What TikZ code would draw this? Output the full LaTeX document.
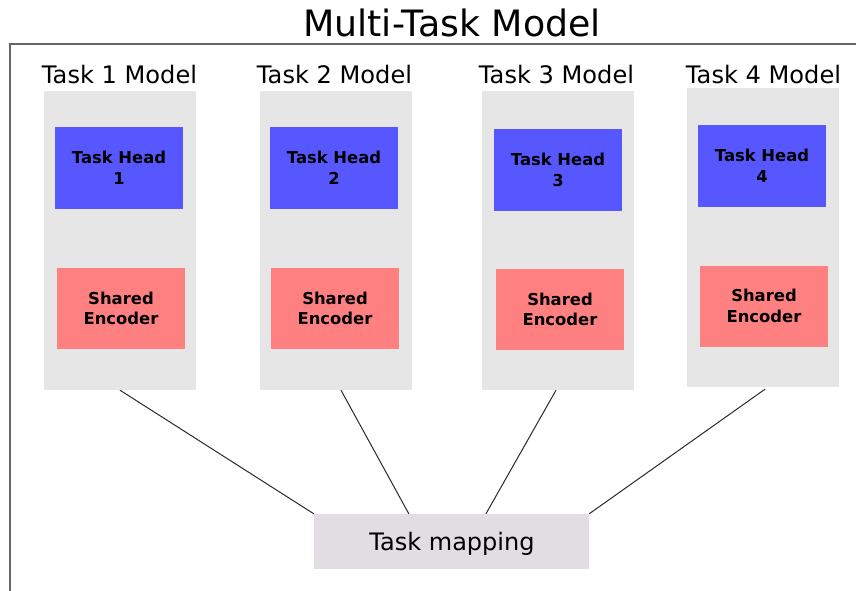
\documentclass[tikz,border=0pt]{standalone}
\usepackage{fontspec}
\setmainfont{DejaVu Sans}
\usetikzlibrary{calc}
\definecolor{boxgray}{HTML}{E6E6E6}
\definecolor{headblue}{HTML}{5757FF}
\definecolor{encred}{HTML}{FF8080}
\definecolor{mapgray}{HTML}{E2DCE3}
\definecolor{framec}{HTML}{666666}
\definecolor{linec}{HTML}{2A2A2A}
\begin{document}
\begin{tikzpicture}[x=1pt,y=-1pt,
  panel/.style={fill=boxgray, draw=none, minimum width=152pt, minimum height=299pt, inner sep=0pt},
  head/.style={fill=headblue, minimum width=128pt, minimum height=82pt, inner sep=0pt, align=center, font=\fontsize{16.4}{20.5}\selectfont\bfseries},
  enc/.style={fill=encred, minimum width=128pt, minimum height=81pt, inner sep=0pt, align=center, font=\fontsize{16.4}{20.5}\selectfont\bfseries},
  tlabel/.style={anchor=base, inner sep=0pt, font=\fontsize{24.1}{29}\selectfont},
  conn/.style={draw=linec, line width=1pt},
]
\useasboundingbox (0,0) rectangle (856,591);
% frame
\draw[framec, line width=1.6pt] (10,592) -- (10,44) -- (857,44);
% title
\node[anchor=base, inner sep=0pt, font=\fontsize{36.3}{44}\selectfont] (title) at (452,37) {Multi-Task Model};
% panels
\node[panel] (p1) at (120,240.5) {};
\node[panel] (p2) at (336,240.5) {};
\node[panel] (p3) at (558,240.5) {};
\node[panel] (p4) at (763,237.5) {};
% labels
\node[tlabel] (l1) at (119.5,84) {Task 1 Model};
\node[tlabel] (l2) at (334.5,84) {Task 2 Model};
\node[tlabel] (l3) at (556.5,84) {Task 3 Model};
\node[tlabel] (l4) at (763.5,84) {Task 4 Model};
% heads
\node[head] (h1) at (119,168) {Task Head\\1};
\node[head] (h2) at (334,168) {Task Head\\2};
\node[head] (h3) at (558,170) {Task Head\\3};
\node[head] (h4) at (762,166) {Task Head\\4};
% encoders
\node[enc] (e1) at (121,308.5) {Shared\\Encoder};
\node[enc] (e2) at (335,308.5) {Shared\\Encoder};
\node[enc] (e3) at (560,309.5) {Shared\\Encoder};
\node[enc] (e4) at (764,306) {Shared\\Encoder};
% mapping
\node[fill=mapgray, minimum width=275pt, minimum height=55pt, inner sep=0pt] (map) at (451.5,541.5) {};
\node[anchor=base, inner sep=0pt, font=\fontsize{24}{29}\selectfont] (maptxt) at (452,550) {Task mapping};
\coordinate (m2) at ($(map.north west)!0.345!(map.north east)$);
\coordinate (m3) at ($(map.north west)!0.625!(map.north east)$);
% connectors
\draw[conn] (p1.south) -- (map.north west);
\draw[conn] ($(p2.south)+(5,0)$) -- (m2);
\draw[conn] ($(p3.south)+(-2,0)$) -- (m3);
\draw[conn] ($(p4.south)+(2,2)$) -- (map.north east);
\end{tikzpicture}
\end{document}
